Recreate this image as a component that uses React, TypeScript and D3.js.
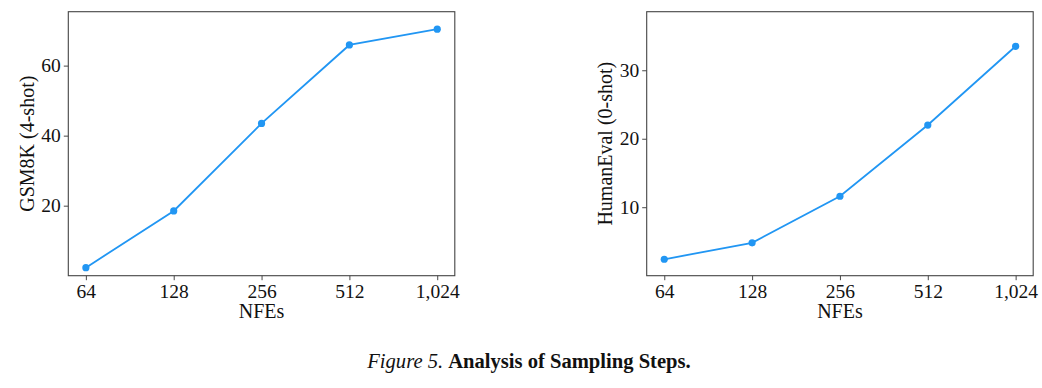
import React, { useRef, useEffect } from 'react';
import * as d3 from 'd3';

const nfes = [64, 128, 256, 512, 1024];
const gsm8k = [2.3, 18.5, 43.5, 65.9, 70.4];
const humaneval = [2.4, 4.8, 11.6, 22.0, 33.5];
const gsmTicks = [20, 40, 60];
const heTicks = [10, 20, 30];
const xTickLabels = ['64', '128', '256', '512', '1,024'];

const W = 1042;
const H = 388;
const LINE = '#2196f3';
const FONT = '"Liberation Serif", "Times New Roman", serif';

interface PanelProps {
    left: number;
    values: number[];
    yTicks: number[];
    yMax: number;
    yLabel: string;
    labelX: number;
}

const PLOT_W = 386.5;
const TOP = 11.7;
const BOTTOM = 275.7;

function drawPanel(root: d3.Selection<SVGGElement, unknown, null, undefined>, p: PanelProps) {
    const g = root.append('g');
    // matplotlib-style 5% padding on the log2 axis
    const xScale = d3.scaleLog().base(2)
        .domain([nfes[0] / Math.pow(2, 0.2), nfes[nfes.length - 1] * Math.pow(2, 0.2)])
        .range([p.left, p.left + PLOT_W]);
    const yScale = d3.scaleLinear().domain([0, p.yMax]).range([BOTTOM, TOP]);

    const xAxis = d3.axisBottom(xScale)
        .tickValues(nfes)
        .tickFormat((_d, i) => xTickLabels[i])
        .tickSize(4.5)
        .tickPadding(4);
    const yAxis = d3.axisLeft(yScale)
        .tickValues(p.yTicks)
        .tickFormat(d3.format('d'))
        .tickSize(4.5)
        .tickPadding(3);

    const gx = g.append('g').attr('transform', `translate(0,${BOTTOM})`).call(xAxis);
    const gy = g.append('g').attr('transform', `translate(${p.left},0)`).call(yAxis);
    [gx, gy].forEach(a => {
        a.select('.domain').remove();
        a.selectAll('line').attr('stroke', '#333').attr('stroke-width', 0.9);
        a.selectAll('text').attr('font-family', FONT).attr('font-size', 19.5).attr('fill', '#111');
    });

    // frame
    g.append('rect')
        .attr('x', p.left).attr('y', TOP)
        .attr('width', PLOT_W).attr('height', BOTTOM - TOP)
        .attr('fill', 'none').attr('stroke', '#444').attr('stroke-width', 1.1);

    const line = d3.line<number>()
        .x((_d, i) => xScale(nfes[i]))
        .y(d => yScale(d));

    g.append('path')
        .datum(p.values)
        .attr('d', line)
        .attr('fill', 'none')
        .attr('stroke', LINE)
        .attr('stroke-width', 1.8);

    g.selectAll('.pt')
        .data(p.values).enter().append('circle')
        .attr('class', 'pt')
        .attr('cx', (_d, i) => xScale(nfes[i]))
        .attr('cy', d => yScale(d))
        .attr('r', 3.6)
        .attr('fill', LINE);

    // axis labels
    g.append('text')
        .attr('x', p.left + PLOT_W / 2)
        .attr('y', 318.3)
        .attr('text-anchor', 'middle')
        .attr('font-family', FONT).attr('font-size', 20).attr('fill', '#111')
        .text('NFEs');

    g.append('text')
        .attr('transform', `translate(${p.labelX},${(TOP + BOTTOM) / 2}) rotate(-90)`)
        .attr('text-anchor', 'middle')
        .attr('font-family', FONT).attr('font-size', 20).attr('fill', '#111')
        .text(p.yLabel);
}

export default function App() {
    const gRef = useRef<SVGGElement>(null);

    useEffect(() => {
        if (!gRef.current) return;
        const root = d3.select(gRef.current);
        root.selectAll('*').remove();

        drawPanel(root, { left: 68.3, values: gsm8k, yTicks: gsmTicks, yMax: 75.4, yLabel: 'GSM8K (4-shot)', labelX: 34 });
        drawPanel(root, { left: 646.7, values: humaneval, yTicks: heTicks, yMax: 38.55, yLabel: 'HumanEval (0-shot)', labelX: 612 });
    }, []);

    return (
        <svg width={W} height={H} style={{ position: 'absolute', left: 0, top: 0, background: '#fff' }}>
            <g ref={gRef} />
            <text x={529} y={368.3} textAnchor="middle" fontFamily={FONT} fontSize={20.6} fill="#111">
                <tspan fontStyle="italic">Figure 5.</tspan>
                <tspan fontWeight="bold" dx={5}>Analysis of Sampling Steps.</tspan>
            </text>
        </svg>
    );
}
